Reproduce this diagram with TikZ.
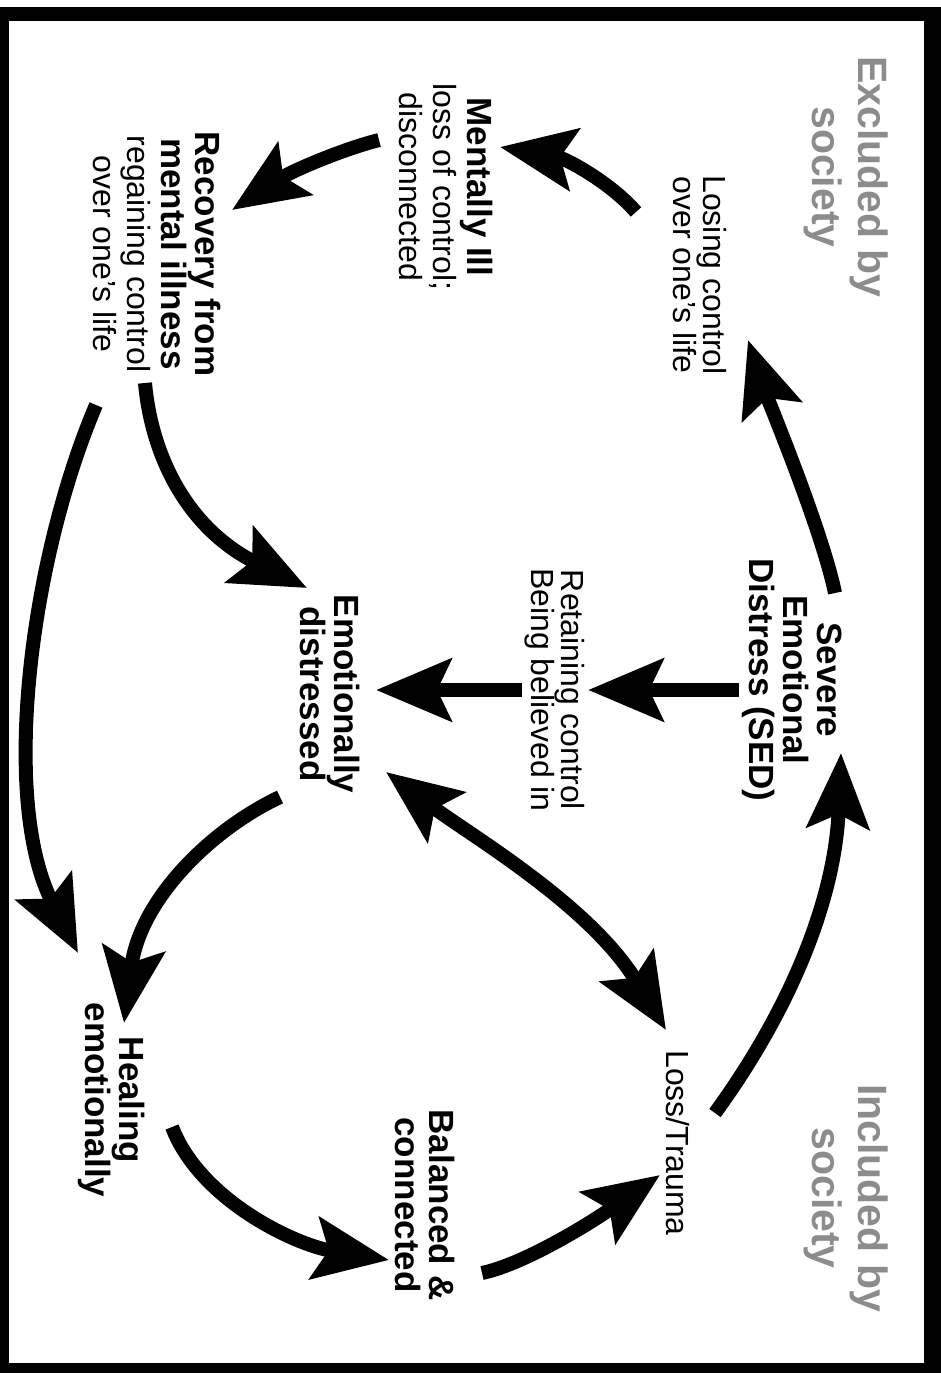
\documentclass[tikz,border=0pt]{standalone}
\usepackage{fontspec}
\setmainfont{Liberation Sans}
\usetikzlibrary{arrows.meta}
\definecolor{socgray}{HTML}{8C8C8C}
\newcommand{\regline}{\fontsize{32}{34}\selectfont\mdseries}

\begin{document}
\begin{tikzpicture}[x=1pt, y=-1pt,
    bld/.style={rotate=-90, align=center, inner sep=3pt, font=\fontsize{35}{34}\selectfont\bfseries},
    reg/.style={rotate=-90, align=center, inner sep=3pt, font=\fontsize{32}{30}\selectfont},
    soc/.style={rotate=-90, align=center, text=socgray, font=\fontsize{41}{46}\selectfont\bfseries},
    arr/.style={line width=14pt, -{Stealth[length=75pt, width=62pt, inset=14pt]}},
    twoarr/.style={line width=14pt, {Stealth[length=75pt, width=62pt, inset=14pt]}-{Stealth[length=75pt, width=62pt, inset=14pt]}}]
                        \useasboundingbox (0, 0) rectangle (941, 1373);
                        % frame
                        \fill (0, 7) rectangle (941, 1373);
                        \fill[white] (9, 21) rectangle (924, 1363);

                        \node (excl) at (846, 177) [soc] {Excluded by\\society};
                        \node (incl) at (846, 1198) [soc] {Included by\\society};

                        \node (sed) at (792, 680) [bld] {Severe\\Emotional\\Distress (SED)};
                        \node (lose) at (700, 275) [reg] {Losing control\\over one's life};
                        \node (ill) at (446, 187) [bld] {Mentally Ill\\{\regline loss of control;}\\{\regline disconnected}};
                        \node (rec) at (157, 254) [bld] {Recovery from\\mental illness\\{\regline regaining control}\\{\regline over one's life}};
                        \node (ret) at (555, 690) [reg] {Retaining control\\Being believed in};
                        \node (emo) at (330, 694) [bld] {Emotionally\\distressed};
                        \node (loss) at (678, 1143) [reg] {Loss/Trauma};
                        \node (bal) at (425, 1205) [bld] {Balanced \&\\connected};
                        \node (heal) at (112, 1100) [bld] {Healing\\emotionally};

                        % arrow ends
                        \coordinate (sed-out) at (835, 593);
                        \coordinate (sed-in) at (841, 753);
                        \coordinate (lose-in) at (748, 340);
                        \coordinate (lose-out) at (636, 212);
                        \coordinate (ill-in) at (500, 147);
                        \coordinate (ill-out) at (379, 140);
                        \coordinate (rec-in) at (232, 210);
                        \coordinate (rec-out) at (145, 383);
                        \coordinate (rec-out2) at (96, 405);
                        \coordinate (emo-in) at (307, 588);
                        \coordinate (emo-out) at (280, 797);
                        \coordinate (emo-end) at (386, 772);
                        \coordinate (heal-in) at (124, 1023);
                        \coordinate (heal-in2) at (78, 953);
                        \coordinate (heal-out) at (172, 1127);
                        \coordinate (bal-in) at (389, 1260);
                        \coordinate (bal-out) at (482, 1273);
                        \coordinate (loss-in) at (660, 1175);
                        \coordinate (loss-end) at (666, 1030);
                        \coordinate (loss-out) at (715, 1113);

                        % excluded side
                        \draw[arr] (sed-out) .. controls (822, 530) and (768, 400) .. (lose-in);
                        \draw[arr] (lose-out) .. controls (610, 182) and (565, 158) .. (ill-in);
                        \draw[arr] (ill-out) .. controls (340, 150) and (290, 172) .. (rec-in);
                        \draw[arr] (rec-out) .. controls (152, 460) and (190, 530) .. (emo-in);
                        \draw[arr] (rec-out2) .. controls (30, 560) and (0, 800) .. (heal-in2);

                        % middle
                        \draw[arr] (sed.south |- ret) -- (ret.north);
                        \draw[arr] (ret.south) -- ([xshift=13pt]emo.north |- ret.south);
                        \draw[twoarr] (emo-end) .. controls (470, 835) and (590, 905) .. (loss-end);

                        % included side
                        \draw[arr] (emo-out) .. controls (210, 830) and (140, 900) .. (heal-in);
                        \draw[arr] (heal-out) .. controls (200, 1200) and (295, 1245) .. (bal-in);
                        \draw[arr] (bal-out) .. controls (520, 1265) and (580, 1230) .. (loss-in);
                        \draw[arr] (loss-out) .. controls (790, 1010) and (835, 900) .. (sed-in);
                    \end{tikzpicture}
\end{document}
